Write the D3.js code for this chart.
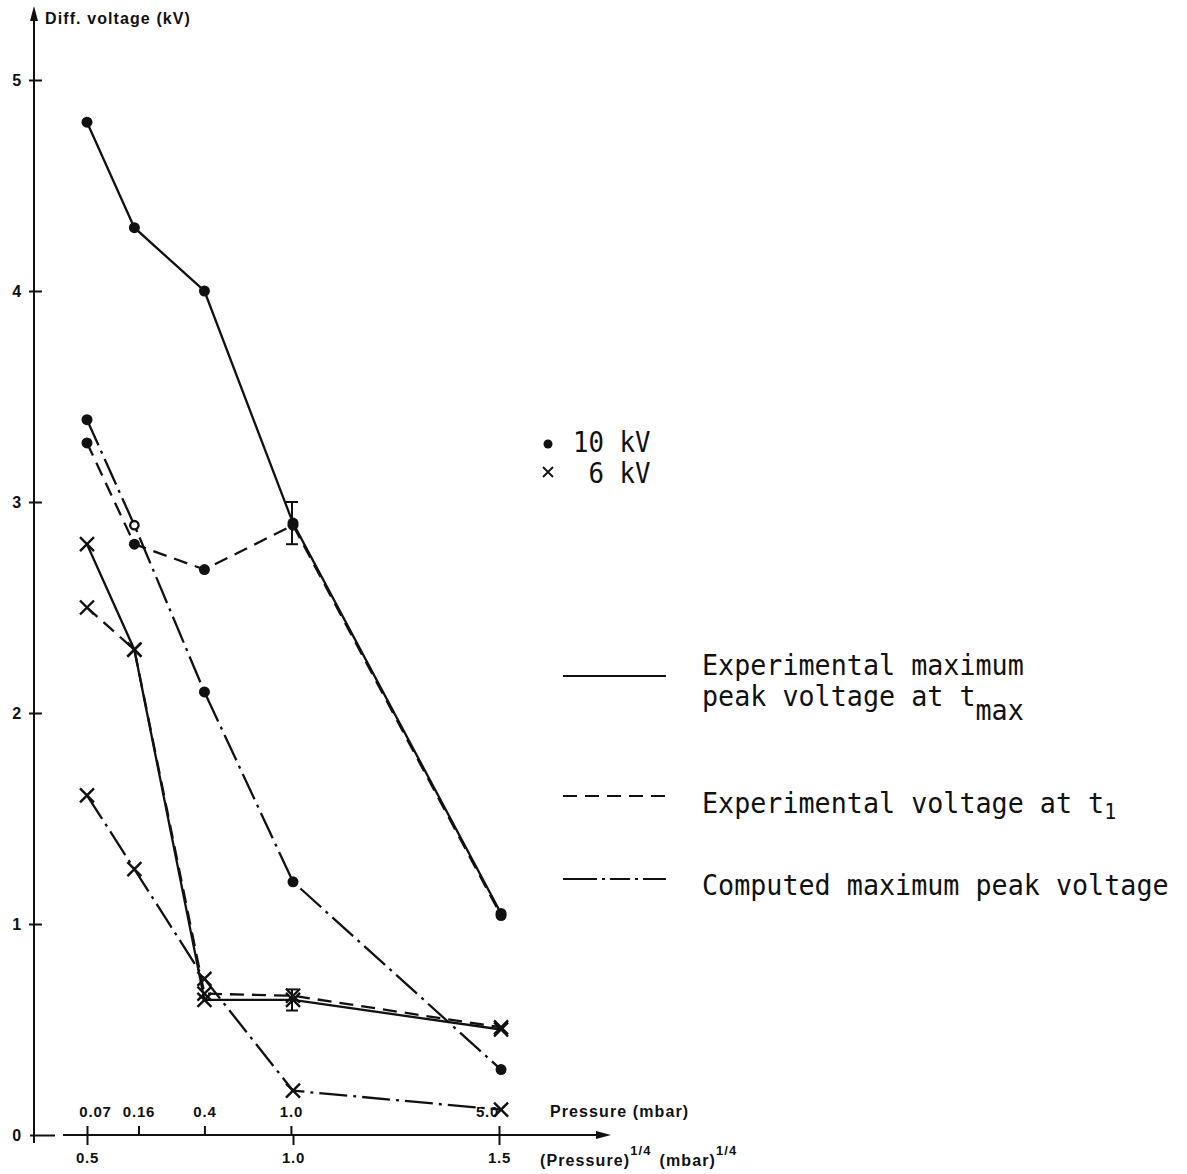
<!DOCTYPE html>
<html><head><meta charset="utf-8">
<script src="https://cdn.jsdelivr.net/npm/d3@7"></script>
<style>
body{margin:0;background:#fff}
text{fill:#111}
.ax{font-family:"Liberation Sans",Arial,sans-serif;font-weight:bold;font-size:15px;letter-spacing:0.8px}
.axl{font-family:"Liberation Sans",Arial,sans-serif;font-weight:bold;font-size:16px;letter-spacing:1.1px}
.lg{font-family:"DejaVu Sans Mono",monospace;font-size:28px;white-space:pre}
</style>
</head><body><svg id="c" width="1187" height="1174"></svg>
<script>
// ---- data ----
const rootP = [0.5, 0.615, 0.785, 1.0, 1.505];          // (Pressure)^1/4 of measurement points
const pressureTicks = [0.5, 0.625, 0.785, 0.995, 1.5];  // positions of pressure tick marks
const pressureLabels = ["0.07", "0.16", "0.4", "1.0", "5.0"];
const xTicks = [0.5, 1.0, 1.5];
const xTickLabels = ["0.5", "1.0", "1.5"];
const yTicks = [0, 1, 2, 3, 4, 5];

const exp10  = [4.80, 4.30, 4.00, 2.90, 1.05];   // experimental max peak at tmax, 10 kV
const t1_10  = [3.28, 2.80, 2.68, 2.89, 1.04];   // experimental at t1, 10 kV
const comp10 = [3.39, 2.89, 2.10, 1.20, 0.31];   // computed max peak, 10 kV
const exp6   = [2.80, 2.30, 0.64, 0.64, 0.50];   // experimental max peak at tmax, 6 kV
const t1_6   = [2.50, 2.30, 0.67, 0.66, 0.51];   // experimental at t1, 6 kV
const comp6  = [1.61, 1.26, 0.74, 0.21, 0.12];   // computed max peak, 6 kV
const errBars = [{x: 1.0, lo: 2.80, hi: 3.00}, {x: 1.0, lo: 0.59, hi: 0.69}];

// ---- setup ----
const svg = d3.select("#c");
const x = d3.scaleLinear().domain([0.5, 1.5]).range([87, 499]);
const y = d3.scaleLinear().domain([0, 5]).range([1135, 80]);
const AX = 34;
const INK = "#111";
const DASH = "14,8";
const DASHDOT = "28,6,3,6";

// ---- axes ----
const yAx = svg.append("g").attr("transform", `translate(${AX},0)`)
  .call(d3.axisLeft(y).tickValues(yTicks).tickSize(0).tickPadding(12).tickFormat(d3.format("d")));
yAx.select(".domain").remove();
yAx.selectAll(".tick line").attr("stroke", INK).attr("stroke-width", 2)
  .attr("x1", d => d === 0 ? -4 : -5).attr("x2", d => d === 0 ? 21 : 8);
yAx.selectAll(".tick text").attr("class", "ax").style("font-size", "16px").attr("fill", INK).attr("dy", "0.36em");
// vertical axis line with arrow
svg.append("line").attr("x1", AX).attr("x2", AX).attr("y1", y(0) + 8).attr("y2", 18)
  .attr("stroke", INK).attr("stroke-width", 2);
svg.append("path").attr("d", `M${AX},6 L${AX - 4},21 L${AX + 4},21 Z`).attr("fill", INK);
svg.append("text").attr("class", "axl").attr("x", 45).attr("y", 24).text("Diff. voltage (kV)");

// horizontal axis (broken near origin)
const Y0 = y(0);
svg.append("line").attr("x1", 63).attr("x2", 598).attr("y1", Y0).attr("y2", Y0)
  .attr("stroke", INK).attr("stroke-width", 2);
svg.append("path").attr("d", `M611,${Y0} L596,${Y0 - 4} L596,${Y0 + 4} Z`).attr("fill", INK);

const xAx = svg.append("g").attr("transform", `translate(0,${Y0})`)
  .call(d3.axisBottom(x).tickValues(xTicks).tickSize(10).tickFormat((d, i) => xTickLabels[i]));
xAx.select(".domain").remove();
xAx.selectAll(".tick line").attr("stroke", INK).attr("stroke-width", 2);
xAx.selectAll(".tick text").attr("class", "ax").style("font-size", "15px").attr("fill", INK).attr("y", 28).attr("dy", 0);

const pAx = svg.append("g").attr("transform", `translate(0,${Y0})`)
  .call(d3.axisTop(x).tickValues(pressureTicks).tickSize(9).tickFormat((d, i) => pressureLabels[i]));
pAx.select(".domain").remove();
pAx.selectAll(".tick line").attr("stroke", INK).attr("stroke-width", 2);
pAx.selectAll(".tick text").attr("class", "ax").style("font-size", "15px").attr("fill", INK).attr("y", -18).attr("dy", 0)
  .attr("dx", (d, i) => i === 4 ? -12 : (i === 0 ? 8 : 0));

svg.append("text").attr("class", "axl").attr("x", 550).attr("y", 1117).text("Pressure (mbar)");
const bl = svg.append("text").attr("class", "axl").attr("x", 540).attr("y", 1166);
bl.append("tspan").text("(Pressure)");
bl.append("tspan").attr("dy", -11).attr("font-size", 13).text("1/4");
bl.append("tspan").attr("dy", 11).attr("dx", 8).text("(mbar)");
bl.append("tspan").attr("dy", -11).attr("font-size", 13).text("1/4");

// ---- lines ----
const line = d3.line().x((d, i) => x(rootP[i])).y(d => y(d));
const series = [
  {v: exp10, dash: null, m: "dot"},
  {v: t1_10, dash: DASH, m: "dot"},
  {v: comp10, dash: DASHDOT, m: "dot"},
  {v: exp6, dash: null, m: "x"},
  {v: t1_6, dash: DASH, m: "x"},
  {v: comp6, dash: DASHDOT, m: "x"}
];
series.forEach(s => {
  svg.append("path").attr("d", line(s.v)).attr("fill", "none").attr("stroke", INK)
    .attr("stroke-width", 2.3).attr("stroke-dasharray", s.dash);
});
// error bars
errBars.forEach(e => {
  const g = svg.append("g").attr("stroke", INK).attr("stroke-width", 2);
  g.append("line").attr("x1", x(e.x) - 1).attr("x2", x(e.x) - 1).attr("y1", y(e.lo)).attr("y2", y(e.hi));
  g.append("line").attr("x1", x(e.x) - 7).attr("x2", x(e.x) + 5).attr("y1", y(e.lo)).attr("y2", y(e.lo));
  g.append("line").attr("x1", x(e.x) - 7).attr("x2", x(e.x) + 5).attr("y1", y(e.hi)).attr("y2", y(e.hi));
});
// markers
series.forEach((s, si) => {
  s.v.forEach((v, i) => {
    const cx = x(rootP[i]), cy = y(v);
    if (s.m === "dot") {
      if (si === 2 && i === 1) {
        svg.append("circle").attr("cx", cx).attr("cy", cy).attr("r", 4.2)
          .attr("fill", "#fff").attr("stroke", INK).attr("stroke-width", 2.4);
      } else {
        svg.append("circle").attr("cx", cx).attr("cy", cy).attr("r", 5.5).attr("fill", INK);
      }
    } else {
      svg.append("path").attr("d", `M${cx - 7},${cy - 7}L${cx + 7},${cy + 7}M${cx - 7},${cy + 7}L${cx + 7},${cy - 7}`)
        .attr("stroke", INK).attr("stroke-width", 2.4);
    }
  });
});

// ---- legends ----
const markerLegend = [{m: "dot", label: "10 kV", y: 452}, {m: "x", label: " 6 kV", y: 483}];
markerLegend.forEach(l => {
  if (l.m === "dot") svg.append("circle").attr("cx", 548).attr("cy", l.y - 8).attr("r", 4.5).attr("fill", INK);
  else svg.append("path").attr("d", `M543,${l.y - 16}L553,${l.y - 6}M543,${l.y - 6}L553,${l.y - 16}`)
    .attr("stroke", INK).attr("stroke-width", 1.8);
  svg.append("g").attr("transform", `translate(573,${l.y}) scale(0.92,1)`)
    .append("text").attr("class", "lg").text(l.label);
});

const lineLegend = [
  {dash: null, ly: 676, rows: [{y: 675, t: "Experimental maximum"}, {y: 706, t: "peak voltage at t", sub: "max", subDy: 14, subSize: 28}]},
  {dash: DASH, ly: 796, rows: [{y: 813, t: "Experimental voltage at t", sub: "1", subDy: 6, subSize: 21}]},
  {dash: "34,5,3,5,20,5,3,5", ly: 879, rows: [{y: 895, t: "Computed maximum peak voltage"}]}
];
lineLegend.forEach(l => {
  svg.append("line").attr("x1", 563).attr("x2", 666).attr("y1", l.ly).attr("y2", l.ly)
    .attr("stroke", INK).attr("stroke-width", 2).attr("stroke-dasharray", l.dash);
  l.rows.forEach(r => {
    const t = svg.append("g").attr("transform", `translate(702,${r.y}) scale(0.955,1)`)
      .append("text").attr("class", "lg");
    t.append("tspan").text(r.t);
    if (r.sub) t.append("tspan").attr("dy", r.subDy).attr("font-size", r.subSize).text(r.sub);
  });
});
</script>
</body></html>
